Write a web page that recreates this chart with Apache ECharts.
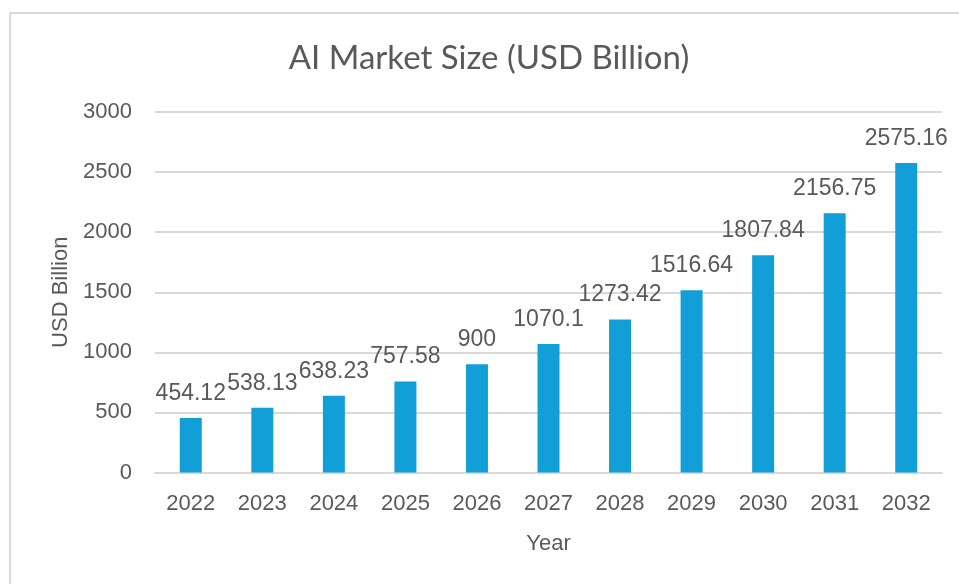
<!DOCTYPE html>
<html>
<head>
<meta charset="utf-8">
<script src="https://cdn.jsdelivr.net/npm/echarts@6/dist/echarts.min.js"></script>
<style>
html,body{margin:0;padding:0;background:#fff;}
#main{width:959px;height:584px;}
</style>
</head>
<body>
<div id="main"></div>
<script>
const titleText = 'AI Market Size (USD Billion)';
const categories = ['2022','2023','2024','2025','2026','2027','2028','2029','2030','2031','2032'];
const values = [454.12, 538.13, 638.23, 757.58, 900, 1070.1, 1273.42, 1516.64, 1807.84, 2156.75, 2575.16];
const yAxisName = 'USD Billion';
const xAxisName = 'Year';

const chart = echarts.init(document.getElementById('main'), null, {renderer:'canvas'});
const textColor = '#595959';
const fontMain = '"Liberation Sans", Arial, sans-serif';
chart.setOption({
  animation: false,
  backgroundColor: '#fff',
  graphic: [
    { type: 'rect', shape: {x: 10, y: 13, width: 1200, height: 800}, style: {fill: 'none', stroke: '#d9d9d9', lineWidth: 2}, silent: true, z: -1 },
    { type: 'text', x: 489, y: 58, style: { text: titleText, fill: textColor, font: '33px Lato', align: 'center', verticalAlign: 'middle' } }
  ],
  grid: { left: 155, right: 17, top: 112, bottom: 111.5, containLabel: false },
  xAxis: {
    type: 'category',
    data: categories,
    name: xAxisName,
    nameLocation: 'middle',
    nameGap: 60,
    nameTextStyle: { color: textColor, fontSize: 22, fontFamily: fontMain, verticalAlign: 'top' },
    axisLine: { show: true, lineStyle: { color: '#d9d9d9', width: 2 } },
    axisTick: { show: false },
    axisLabel: { color: textColor, fontSize: 22, fontFamily: fontMain, margin: 20 }
  },
  yAxis: {
    type: 'value',
    min: 0, max: 3000, interval: 500,
    name: yAxisName,
    nameLocation: 'middle',
    nameGap: 80,
    nameRotate: 90,
    nameTextStyle: { color: textColor, fontSize: 22, fontFamily: fontMain },
    axisLine: { show: false },
    axisTick: { show: false },
    axisLabel: { color: textColor, fontSize: 22, fontFamily: fontMain, margin: 23, formatter: v => String(v) },
    splitLine: { lineStyle: { color: '#d9d9d9', width: 2 } }
  },
  series: [{
    type: 'bar',
    data: values,
    barWidth: 22,
    itemStyle: { color: '#129fd7' },
    label: { show: true, position: 'top', distance: 13, color: textColor, fontSize: 23, fontFamily: fontMain }
  }]
});
</script>
</body>
</html>
